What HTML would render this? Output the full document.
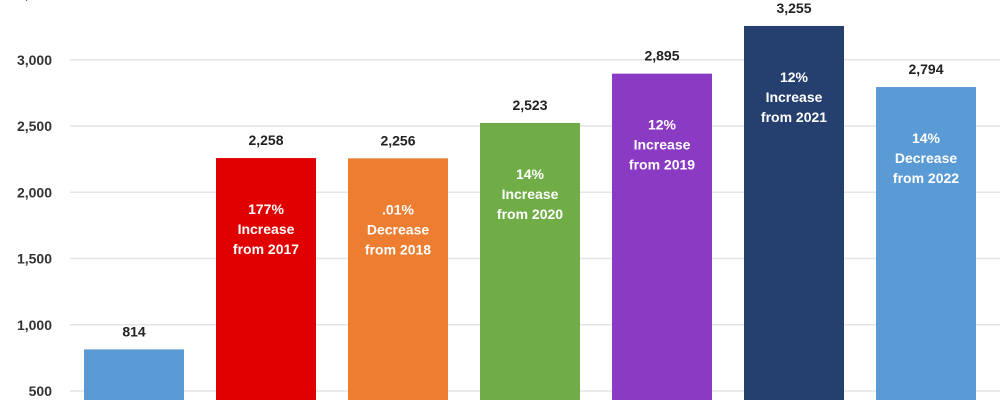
<!DOCTYPE html>
<html><head><meta charset="utf-8"><style>
body{margin:0;background:#fff;}
svg{display:block;font-family:"Liberation Sans",Arial,sans-serif;}
</style></head><body>
<svg id="chart" width="1000" height="400"></svg>
<script>
const categories=["2017","2018","2019","2020","2021","2022","2023"];
const values=[814,2258,2256,2523,2895,3255,2794];
const valueLabels=["814","2,258","2,256","2,523","2,895","3,255","2,794"];
const notes=[[],["177%","Increase","from 2017"],[".01%","Decrease","from 2018"],["14%","Increase","from 2020"],["12%","Increase","from 2019"],["12%","Increase","from 2021"],["14%","Decrease","from 2022"]];
const colors=["#5b9bd5","#e00000","#ed7d31","#70ad47","#8b3ac4","#253f6e","#5b9bd5"];
const ticks=[500,1000,1500,2000,2500,3000,3500];
const tickLabels=["500","1,000","1,500","2,000","2,500","3,000","3,500"];
const NS="http://www.w3.org/2000/svg";
const svg=document.getElementById('chart');
const y=v=>391-(v-500)*0.1325;
const x=i=>84+i*132;
const bw=100;
function mk(t,a,p){const e=document.createElementNS(NS,t);for(const k in a)e.setAttribute(k,a[k]);(p||svg).appendChild(e);return e;}
ticks.forEach((t,i)=>{
  const g=mk('line',{x1:70,x2:1000,y1:y(t),y2:y(t),stroke:'#e4e4e4','stroke-width':1.5});
  
  
  const l=mk('text',{x:52,y:y(t)+5,'text-anchor':'end','font-size':14,'font-weight':'bold',fill:'#333'});
  l.textContent=tickLabels[i];
  
  
});
values.forEach((v,i)=>{
  const r=mk('rect',{x:x(i),y:y(v),width:bw,height:400-y(v),fill:colors[i]});
  
  
  const t=mk('text',{x:x(i)+bw/2,y:y(v)-13,'text-anchor':'middle','font-size':14,'font-weight':'bold',fill:'#222'});
  t.textContent=valueLabels[i];
  
  
  notes[i].forEach((s,j)=>{
    const n=mk('text',{x:x(i)+bw/2,y:y(v)+56+j*20,'text-anchor':'middle','font-size':14,'font-weight':'bold',fill:'#fff'});
    n.textContent=s;
    
    
  });
});
</script>
</body></html>
